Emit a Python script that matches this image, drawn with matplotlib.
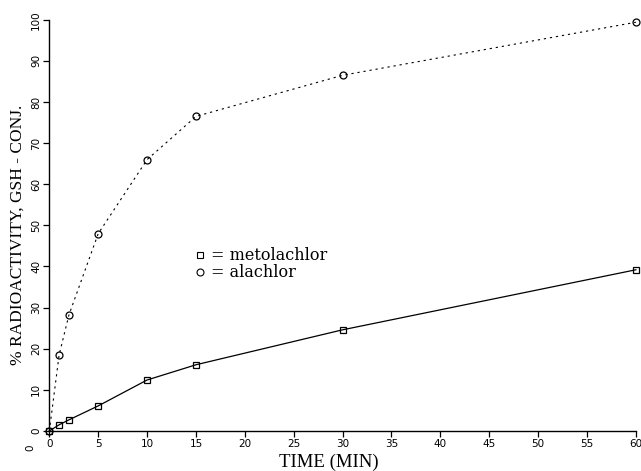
import matplotlib
matplotlib.use("Agg")
import matplotlib.pyplot as plt
from matplotlib.lines import Line2D

time_min = [0, 1, 2, 5, 10, 15, 30, 60]
alachlor = [0, 18.5, 28.2, 48.0, 66.0, 76.5, 86.5, 99.4]
metolachlor = [0, 1.5, 2.7, 6.1, 12.4, 16.1, 24.6, 39.2]
x_ticks = list(range(0, 61, 5))
y_ticks = list(range(0, 101, 10))

fig = plt.figure(figsize=(6.41, 4.71), dpi=100)
ax = fig.add_axes([0.077, 0.085, 0.915, 0.873])

ax.plot(time_min, alachlor, color="black", lw=0.8, linestyle=(0, (2, 3.5)),
        marker="o", ms=5, mfc="none", mec="black", mew=0.9, clip_on=False)
ax.plot(time_min, metolachlor, color="black", lw=0.9, linestyle="-",
        marker="s", ms=5, mfc="none", mec="black", mew=0.9, clip_on=False)

ax.set_xlim(0, 60)
ax.set_ylim(0, 100)
ax.set_xticks(x_ticks)
ax.set_yticks(y_ticks)
for s in ["top", "right"]:
    ax.spines[s].set_visible(False)
for s in ["left", "bottom"]:
    ax.spines[s].set_linewidth(1.0)
ax.tick_params(axis="both", length=4, width=0.9, labelsize=7.5, pad=2)
ax.tick_params(axis="y", labelrotation=90, pad=2)
for lab in ax.get_yticklabels():
    lab.set_verticalalignment("center")

ax.set_xlabel("TIME (MIN)", family="Liberation Serif", fontsize=13.5, labelpad=1)
ax.xaxis.set_label_coords(0.476, -0.055)
ax.xaxis.label.set_verticalalignment("top")
ax.set_ylabel("% RADIOACTIVITY, GSH - CONJ.", family="Liberation Serif", fontsize=12.5, labelpad=2)
ax.yaxis.set_label_coords(-0.04, 0.477)

ax.text(-0.032, -0.04, "0", transform=ax.transAxes, rotation=90,
        fontsize=7.5, ha="center", va="center")

handles = [Line2D([], [], marker="s", ls="none", mfc="none", mec="black", ms=5, mew=0.8),
           Line2D([], [], marker="o", ls="none", mfc="none", mec="black", ms=5, mew=0.8)]
ax.legend(handles, ["= metolachlor", "= alachlor"], loc="upper left",
          bbox_to_anchor=(0.238, 0.462), frameon=False, handlelength=0.6,
          handletextpad=0.35, labelspacing=0.0, borderaxespad=0,
          prop={"family": "DejaVu Serif", "size": 11.5})

fig.savefig("out.png", dpi=100)
